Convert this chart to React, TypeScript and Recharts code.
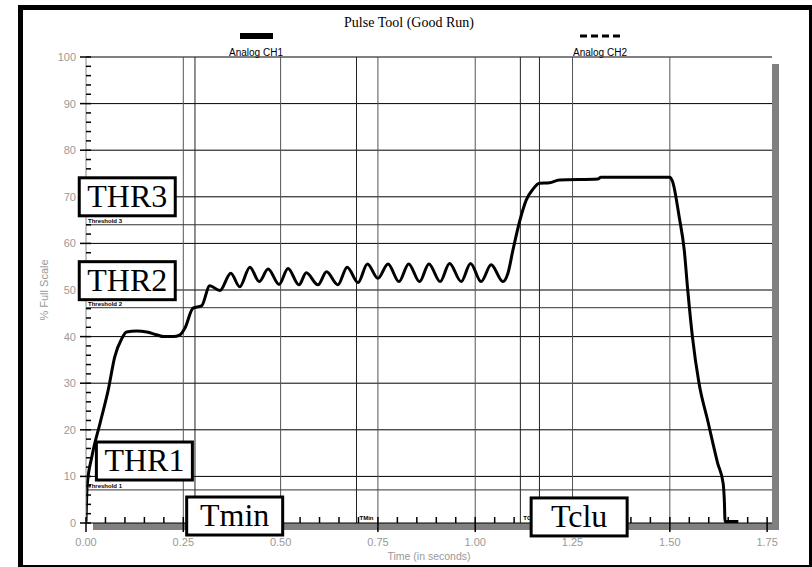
import React from 'react';
import { ComposedChart, Line, XAxis, YAxis, ReferenceLine, ReferenceDot } from 'recharts';

// Analog CH1 trace
const time = [
  0.0, 0.003, 0.015, 0.036, 0.057, 0.074, 0.092, 0.104, 0.13, 0.156, 0.181, 0.2, 0.225, 0.24,
  0.254, 0.275, 0.297, 0.318, 0.344, 0.372, 0.395, 0.421, 0.445, 0.468, 0.496, 0.519, 0.547,
  0.566, 0.596, 0.618, 0.647, 0.671, 0.699, 0.723, 0.75, 0.776, 0.804, 0.829, 0.857, 0.881,
  0.91, 0.934, 0.964, 0.988, 1.015, 1.041, 1.071, 1.084, 1.097, 1.114, 1.131, 1.148, 1.165,
  1.191, 1.216, 1.315, 1.323, 1.499, 1.507, 1.524, 1.537, 1.546, 1.558, 1.575, 1.597, 1.623,
  1.637, 1.64, 1.642, 1.676,
];
const pct = [
  0.3, 8.0, 14.2, 21.4, 28.5, 35.7, 39.6, 41.0, 41.2, 41.0, 40.4, 40.0, 40.0, 40.3,
  41.8, 46.1, 46.6, 50.9, 49.9, 53.6, 50.7, 54.9, 51.8, 54.5, 51.2, 54.6, 51.1,
  53.7, 51.1, 53.9, 51.1, 54.9, 51.6, 55.6, 52.5, 55.6, 51.8, 55.6, 51.8, 55.6,
  51.8, 55.7, 51.8, 55.7, 51.8, 55.4, 51.8, 53.6, 58.6, 64.7, 69.3, 71.6, 72.9,
  73.0, 73.6, 73.8, 74.2, 74.2, 73.3, 65.7, 58.6, 50.0, 40.0, 30.0, 22.1, 12.8,
  8.5, 4.9, 0.3, 0.3,
];

// unlabelled minor ticks; labels only on every 0.25 s / 10 %
const xMinorTicks = Array.from({ length: 36 }, (_, i) => +(i * 0.05).toFixed(2));
const yMinorTicks = Array.from({ length: 51 }, (_, i) => i * 2);
const gridTimes = [0.25, 0.5, 0.75, 1.0, 1.25, 1.5];
const gridValues = [10, 20, 30, 40, 50, 60, 70, 80, 90, 100];

const thresholdNames = ['Threshold 1', 'Threshold 2', 'Threshold 3'];
const thresholdValues = [7.1, 46.2, 64];

const markerTimes = [0.28, 0.695, 1.116, 1.165];
const markerNames = ['', 'TMin', 'TC', ''];

const boxLabels = ['THR3', 'THR2', 'THR1', 'Tmin', 'Tclu'];
const boxTimes = [0.106, 0.106, 0.15, 0.382, 1.267];
const boxValues = [70, 52, 13.3, 1.5, 1.3];

const chartData = time.map((t, i) => ({ t, pct: pct[i] }));

const W = 812;
const H = 567;
const X_DOMAIN: [number, number] = [0, 1.7625];
const sans = 'Liberation Sans, Arial, sans-serif';
const serif = 'Liberation Serif, Times New Roman, serif';

const isMajor = (v: number, step: number) => Math.abs(v / step - Math.round(v / step)) < 1e-6;

const XTick = (props: any) => {
  const { x, y, payload } = props;
  const v = payload.value as number;
  const major = isMajor(v, 0.25);
  return (
    <g>
      <line x1={x} y1={y - 6} x2={x} y2={major ? y + 9 : y} stroke="#000" strokeWidth={1.5} />
      {major && (
        <text x={x} y={y + 23} textAnchor="middle" fill="#999" fontSize={11} fontFamily={sans}>
          {v.toFixed(2)}
        </text>
      )}
    </g>
  );
};

const YTick = (props: any) => {
  const { x, y, payload } = props;
  const v = payload.value as number;
  const major = isMajor(v, 10);
  return (
    <g>
      <line x1={major ? x - 6 : x} y1={y} x2={x + 5} y2={y} stroke="#000" strokeWidth={1.5} />
      {major && (
        <text x={x - 10} y={y + 4} textAnchor="end" fill="#999" fontSize={11} fontFamily={sans}>
          {v}
        </text>
      )}
    </g>
  );
};

const boxShape = (label: string) => (props: any) => {
  const { cx, cy } = props;
  if (cx == null || cy == null) return <g />;
  return (
    <g>
      <rect x={cx - 48} y={cy - 19} width={96} height={38} fill="#fff" stroke="#000" strokeWidth={3} />
      <text x={cx} y={cy + 10} textAnchor="middle" fontFamily={serif} fontSize={32} fill="#000">
        {label}
      </text>
    </g>
  );
};

const Frame = () => (
  <svg width={W} height={H} style={{ position: 'absolute', left: 0, top: 0 }}>
    <rect x={18} y={5} width={794} height={562} fill="#000" />
    <rect x={23} y={10} width={786} height={555} fill="#fff" />
    {/* drop shadow of the plot */}
    <rect x={772} y={64} width={7} height={466} fill="#808080" />
    <rect x={93} y={523} width={686} height={7} fill="#808080" />
    <text x={409} y={27} textAnchor="middle" fontFamily={serif} fontSize={14} fill="#000">
      Pulse Tool (Good Run)
    </text>
    <rect x={240} y={33} width={33} height={6} fill="#000" />
    <text x={256} y={56} textAnchor="middle" fontFamily={sans} fontSize={10} fill="#000">Analog CH1</text>
    <line x1={580} y1={36} x2={620} y2={36} stroke="#000" strokeWidth={3} strokeDasharray="7 4" />
    <text x={600} y={56} textAnchor="middle" fontFamily={sans} fontSize={10} fill="#000">Analog CH2</text>
  </svg>
);

export default function App() {
  return (
    <div style={{ position: 'absolute', left: 0, top: 0, width: W, height: H, background: '#fff' }}>
      <Frame />
      <div style={{ position: 'absolute', left: 0, top: 0 }}>
        <ComposedChart width={W} height={H} data={chartData} margin={{ top: 57, right: 40, bottom: 0, left: 0 }}>
          <XAxis
            dataKey="t"
            type="number"
            domain={X_DOMAIN}
            allowDataOverflow
            ticks={xMinorTicks}
            interval={0}
            height={44}
            tickSize={0}
            tickMargin={0}
            tick={<XTick />}
            tickLine={false}
            axisLine={{ stroke: '#000' }}
            label={{ value: 'Time (in seconds)', position: 'insideBottom', offset: 7, fill: '#999', fontSize: 10.5, fontFamily: sans }}
          />
          <YAxis
            type="number"
            domain={[0, 100]}
            ticks={yMinorTicks}
            interval={0}
            width={86}
            tickSize={0}
            tickMargin={0}
            tick={<YTick />}
            tickLine={false}
            axisLine={{ stroke: '#888' }}
            label={{ value: '% Full Scale', angle: -90, position: 'insideLeft', offset: 44, fill: '#999', fontSize: 11, fontFamily: sans, style: { textAnchor: 'middle' } }}
          />
          {gridValues.map((v) => (
            <ReferenceLine key={`h${v}`} y={v} stroke="#000" strokeWidth={1} />
          ))}
          {gridTimes.map((t) => (
            <ReferenceLine key={`g${t}`} x={t} stroke="#555" strokeWidth={1} />
          ))}
          {markerTimes.map((t, i) => (
            <ReferenceLine
              key={`m${t}`}
              x={t}
              stroke="#222"
              strokeWidth={1}
              label={markerNames[i] ? { value: markerNames[i], position: 'insideBottomLeft', offset: 3, fontSize: 6, fontWeight: 'bold', fontFamily: sans, fill: '#000' } : undefined}
            />
          ))}
          {thresholdValues.map((v, i) => (
            <ReferenceLine
              key={`th${v}`}
              y={v}
              stroke="#333"
              strokeWidth={1}
              label={{ value: thresholdNames[i], position: 'insideBottomLeft', offset: 2, fontSize: 6, fontWeight: 'bold', fontFamily: sans, fill: '#000' }}
            />
          ))}
          <Line dataKey="pct" type="monotone" stroke="#000" strokeWidth={3} dot={false} isAnimationActive={false} />
        </ComposedChart>
      </div>
      {/* annotation boxes sit above the axes, so they get their own layer on the same scales */}
      <div style={{ position: 'absolute', left: 0, top: 0 }}>
        <ComposedChart width={W} height={H} data={chartData} margin={{ top: 57, right: 40, bottom: 44, left: 86 }}>
          <XAxis dataKey="t" type="number" domain={X_DOMAIN} allowDataOverflow hide />
          <YAxis type="number" domain={[0, 100]} allowDataOverflow hide />
          <Line dataKey="pct" stroke="none" dot={false} activeDot={false} isAnimationActive={false} />
          {boxLabels.map((lbl, i) => (
            <ReferenceDot key={lbl} x={boxTimes[i]} y={boxValues[i]} r={3} fill="#fff" stroke="none" ifOverflow="visible" shape={boxShape(lbl)} />
          ))}
        </ComposedChart>
      </div>
    </div>
  );
}
